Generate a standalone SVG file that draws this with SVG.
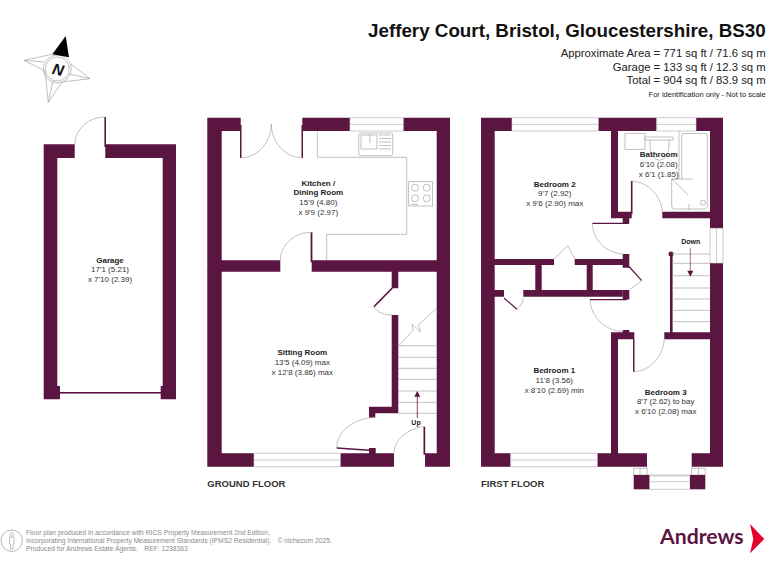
<svg xmlns="http://www.w3.org/2000/svg" width="768" height="576" viewBox="0 0 768 576">
<style>
text{font-family:"Liberation Sans",Arial,sans-serif;fill:#333;text-anchor:middle;font-size:8px}
.b{font-weight:bold;fill:#222}
.w{fill:#5a1540}
.l{fill:none;stroke:#a9a4a8;stroke-width:.7}
.p{fill:none;stroke:#5a1540;stroke-width:1.2}
.win{fill:#fff;stroke:#c4bec4;stroke-width:.8}
.r{text-anchor:end;fill:#222}
.fl{text-anchor:start;font-weight:bold;font-size:9.5px;fill:#333}
.ft{text-anchor:start;font-size:6.75px;fill:#8a8a8a}
</style>
<rect width="768" height="576" fill="#fff"/>
<g id="header">
<text class="r b" x="765.700" y="37" style="font-size:18.800px;fill:#111">Jeffery Court, Bristol, Gloucestershire, BS30</text>
<text class="r" x="765.700" y="57" style="font-size:11.300px">Approximate Area = 771 sq ft / 71.6 sq m</text>
<text class="r" x="765.700" y="71" style="font-size:11.300px">Garage = 133 sq ft / 12.3 sq m</text>
<text class="r" x="765.700" y="84.300" style="font-size:11.300px">Total = 904 sq ft / 83.9 sq m</text>
<text class="r" x="765.700" y="97.300" style="font-size:7.500px">For identification only - Not to scale</text>
</g>
<g id="compass">
<path class="l" d="M52.300,54.300 L24,60.300 L45,71 L48.300,102.300 L62,82 L90,78.700 L71,64 M24,60.300 L44,62 M48.300,102.300 L53,81 M90,78.700 L69,74"/>
<circle class="l" cx="57.300" cy="69" r="14" fill="#fff"/>
<circle class="l" cx="57.300" cy="69" r="12"/>
<polygon points="65.700,36 52.300,54.300 69,57.300" fill="#000"/>
<text class="b" x="0" y="0" transform="translate(57,75) rotate(12)" style="font-size:15.500px;font-style:italic;fill:#111">N</text>
</g>
<g id="garage">
<path class="w" d="M43.700,144.300H74.700V158H57.300V386H60V399.300H43.700Z"/>
<path class="w" d="M105.300,144.300H176V399.300H160.700V386H162.700V158H105.300Z"/>
<rect class="w" x="104.400" y="117" width="1.600" height="30"/>
<path class="l" d="M105,117A30,27 0 0 0 75,144.300"/>
<rect class="w" x="60" y="392" width="101" height="1.600"/>
<text class="b" x="110" y="262.500">Garage</text>
<text x="110" y="272">17'1 (5.21)</text>
<text x="110" y="281.500">x 7'10 (2.39)</text>
</g>
<g id="kitchen">
<path class="win" d="M349.700,117.700H403.700V131H349.700ZM349.700,124.400H403.700"/>
<path class="w" d="M207.300,117.700H240.700V131H221.700V260.300H280.300V271.700H207.300Z"/>
<path class="w" d="M302.300,117.700H349.700V131H302.300Z"/>
<path class="w" d="M403.700,117.700H450V271.700H311.700V260.300H436.700V131H403.700Z"/>
<rect class="w" x="240" y="125" width="1.500" height="33"/><rect class="w" x="301.500" y="125" width="1.500" height="33"/>
<path class="l" d="M241,157.700C258,157.700 271.300,142 271.300,124C271.300,142 285,157.700 302.300,157.700"/>
<rect class="w" x="310.600" y="232.300" width="1.800" height="30"/>
<path class="l" d="M311,232.300A31,28 0 0 0 280.300,260.300"/>
<path class="l" d="M317.300,131V157.300H406.700V234.300H326.700V260.300"/>
<rect class="l" x="358.700" y="133" width="34" height="22.700" rx="2"/>
<rect class="l" x="361" y="135" width="16" height="14"/>
<path class="l" d="M379,135H391M379,138.500H391M379,142H391M379,145.500H391M379,149H391M370,134V143"/>
<rect class="l" x="408.700" y="181.700" width="24" height="24.300"/>
<circle class="l" cx="415" cy="187.700" r="3.500"/><circle class="l" cx="426.700" cy="187.700" r="3.500"/><circle class="l" cx="415" cy="198.300" r="3.500"/><circle class="l" cx="426.700" cy="198.300" r="3.500"/>
<path class="l" d="M410.500,204.500H418"/>
<text class="b" x="318.300" y="186">Kitchen /</text>
<text class="b" x="318.300" y="195.300">Dining Room</text>
<text x="318.300" y="204.700">15'9 (4.80)</text>
<text x="318.300" y="214.500">x 9'9 (2.97)</text>
</g>
<g id="sitting-room">
<path class="win" d="M253.700,453.300H340.700V466.700H253.700ZM253.700,460H340.700"/>
<path class="w" d="M207.300,271H221.700V453.300H253.700V466.700H207.300Z"/>
<path class="w" d="M340.700,453.300H369V448H375.700V453.300H394V466.700H340.700Z"/>
<path class="w" d="M425,453.300H436.700V271H450V466.700H425Z"/>
<path class="w" d="M391.700,271H398.300V288.300H391.700ZM391.700,315H398.300V413.300H375.300V417.700H369V406.700H391.700Z"/>
<path class="w" d="M391.700,287.500L392.800,288.800L374.500,307.200L373.500,306Z"/>
<path class="l" d="M374,306.700C377,312 384,315 391.700,315"/>
<path class="l" d="M375,417.300C354,418 337,431 336.700,447.700"/>
<path class="w" d="M336.700,447.200L369,449.500V451L336.700,448.700Z"/>
<rect class="w" x="423.500" y="426.700" width="1.700" height="28"/>
<path class="l" d="M424,426.700C408,428 394,440 394,453.300"/>
<path class="l" d="M398.300,345.700H436.700M398.300,357.300H436.700M398.300,368.300H436.700M398.300,379.300H436.700M398.300,391H436.700M398.300,402.300H436.700M398.300,413.300H436.700"/>
<path class="l" d="M399,345.700L413,330L412,324L420.700,332L418.300,325L436.700,308.300"/>
<path d="M417.300,418V396" stroke="#5a1540" stroke-width=".8" fill="none"/>
<polygon class="w" points="417.300,391 420.300,396.700 414.300,396.700"/>
<text class="b" x="416" y="424.500" style="font-size:7px">Up</text>
<text class="b" x="302.300" y="355">Sitting Room</text>
<text x="302.300" y="364.700">13'5 (4.09) max</text>
<text x="302.300" y="374.500">x 12'8 (3.86) max</text>
<text class="fl" x="207.300" y="487">GROUND FLOOR</text>
</g>
<g id="bedroom-2">
<path class="win" d="M511.700,117.700H598.700V131H511.700ZM511.700,124.400H598.700"/>
<path class="w" d="M481,117.700H511.700V131H494.700V259H554V265H494.700V290H504V296.700H494.700V453.300H510.700V466.700H481Z"/>
<path class="w" d="M598.700,117.700H656.700V131H618V211.700H631.700V218.300H629.300V223.300H622.700V218.300H611V131H598.700Z"/>
<path class="l" d="M554,259L567.700,245.700L574.700,259"/>
<path class="w" d="M574.700,259H622.700V254H629.300V267.700H622.700V265H592.700V290H622.700V296.700H523.300V290H535.300V265H541.700V290H586.700V265H574.700Z"/>
<rect class="w" x="622.700" y="290" width="6.600" height="9.500"/>
<path class="w" d="M592.300,222.700H629V224H592.300Z"/>
<path class="l" d="M592.300,223.300C593,240 606,253 623.300,254"/>
<path class="p" d="M629,266.500L641.700,280.700"/>
<path class="l" d="M641.700,280.700L629.300,290"/>
<path class="p" d="M504,298L517,309.300"/>
<path class="l" d="M517,309.300C521,306 523,302 523.300,298"/>
<text class="b" x="554.700" y="187">Bedroom 2</text>
<text x="554.700" y="196.300">9'7 (2.92)</text>
<text x="554.700" y="206">x 9'6 (2.90) max</text>
</g>
<g id="bathroom">
<path class="win" d="M656.700,117.700H696.300V131H656.700ZM656.700,124.400H696.300"/>
<path class="w" d="M696.300,117.700H723V228.300H710V218.300H662.300V211.700H710V131H696.300Z"/>
<rect class="w" x="630.900" y="181" width="1.600" height="33"/>
<path class="l" d="M631.700,181C648,182 661,195 662.300,211.700"/>
<rect class="l" x="625" y="133.300" width="20" height="16"/>
<path class="l" d="M645,137H673V140H645ZM650,140V146A9.300,14 0 0 0 669,146V140M679,131V179H671.700V206Q671.700,209 674.700,209H704Q707.300,209 707.300,206V136Q707.300,133.500 705,133.500H684Q681.700,133.500 681.700,136V179M671.700,179H692.700M672,179L688,195"/>
<circle class="l" cx="703" cy="202.700" r="2.500"/><path class="l" d="M689,204V210"/>
<text class="b" x="658.700" y="157.300">Bathroom</text>
<text x="658.700" y="167.300">6'10 (2.08)</text>
<text x="658.700" y="177">x 6'1 (1.85)</text>
</g>
<g id="landing">
<rect class="win" x="710" y="228.300" width="13" height="35"/><path class="win" d="M716.500,228.300V263.300"/>
<rect class="w" x="710" y="263.300" width="13" height="76"/>
<rect class="w" x="670" y="253.500" width="2.600" height="80"/>
<circle class="w" cx="671" cy="254" r="2.500"/>
<path class="l" d="M672,254H710M672,263.300H710M672,275.700H710M672,288H710M672,299H710M672,310.300H710M672,321.700H710"/>
<path d="M690.300,248.300V271" stroke="#5a1540" stroke-width=".6" fill="none"/>
<polygon class="w" points="690.300,276.700 687.300,270.700 693.300,270.700"/>
<text class="b" x="690.700" y="244.200" style="font-size:7px">Down</text>
</g>
<g id="bedroom-1">
<path class="win" d="M510.700,453.300H597.700V466.700H510.700ZM510.700,460H597.700"/>
<path class="w" d="M597.700,453.300H611V332.300H622.700V330H629.300V332.300H634.300V339.300H618V453.300H647V466.700H597.700Z"/>
<path class="w" d="M590,299H626.700V300.300H590Z"/>
<path class="l" d="M590,300C591,317 605,331 623.300,331.700"/>
<text class="b" x="554.300" y="373">Bedroom 1</text>
<text x="554.300" y="383">11'8 (3.56)</text>
<text x="554.300" y="392.700">x 8'10 (2.69) min</text>
</g>
<g id="bedroom-3">
<path class="w" d="M664.300,332.300H710V339.300H664.300Z"/>
<rect class="w" x="633" y="339" width="1.500" height="32.700"/>
<path class="l" d="M634,371.700C650,371 663,357 664.300,339"/>
<path class="w" d="M691.700,453.300H710V330H723V466.700H691.700Z"/>
<path class="l" d="M647,466.700V475M691.700,466.700V475M633.700,468.300H647M691.700,468.300H705.300M633.700,475H705.300M633.700,468.300V475M640,468.300V475M705.300,468.300V475M698.500,468.300V475"/>
<path class="win" d="M649.300,476H690V489.300H649.300ZM649.300,481.700H690"/>
<rect class="w" x="633.700" y="475" width="15.600" height="14.300"/>
<rect class="w" x="690" y="475" width="15.300" height="14.300"/>
<text class="b" x="665.700" y="394.700">Bedroom 3</text>
<text x="665.700" y="404">8'7 (2.62) to bay</text>
<text x="665.700" y="413.500">x 6'10 (2.08) max</text>
<text class="fl" x="481" y="487">FIRST FLOOR</text>
</g>
<g id="footer">
<circle cx="11.700" cy="540.700" r="10.700" fill="none" stroke="#999" stroke-width=".7"/>
<path d="M9.500,537H14V544H13V549H10.500V544H9.500Z" fill="none" stroke="#999" stroke-width=".6"/><circle cx="11.700" cy="534.500" r="1.700" fill="none" stroke="#999" stroke-width=".6"/>
<text class="ft" x="26" y="534.500">Floor plan produced in accordance with RICS Property Measurement 2nd Edition,</text>
<text class="ft" x="26" y="542.800">Incorporating International Property Measurement Standards (IPMS2 Residential).</text>
<text class="ft" x="277.500" y="542.800">© nichecom 2025.</text>
<text class="ft" x="26" y="551">Produced for Andrews Estate Agents.</text>
<text class="ft" x="144.300" y="551">REF: 1238363</text>
</g>
<g id="logo">
<text x="660" y="544" style="text-anchor:start;font-family:Lato,'Liberation Sans',sans-serif;font-weight:bold;font-size:21.200px;fill:#5a1540">Andrews</text>
<polygon points="750,524 764.300,539 750,553.300 753.300,539" fill="#e4002b"/>
</g>
</svg>
